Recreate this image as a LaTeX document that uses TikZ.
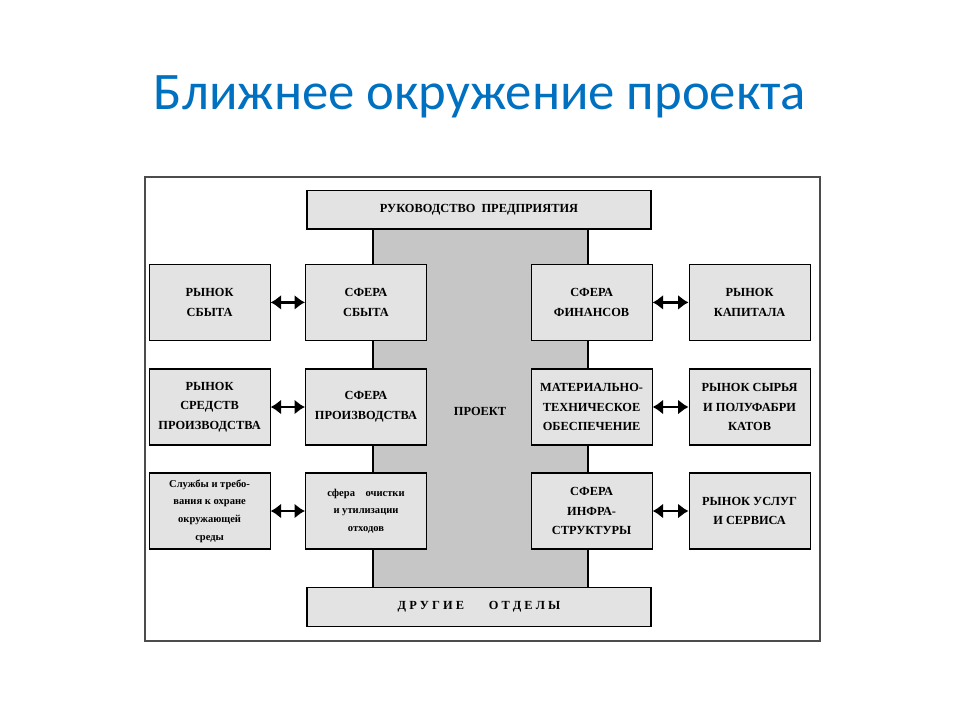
\documentclass[tikz,border=0pt]{standalone}
\usepackage{fontspec}
\setmainfont{Liberation Serif}
\newfontfamily\titlefont{Carlito}
\usetikzlibrary{arrows.meta}
\usetikzlibrary{backgrounds}
\definecolor{titleblue}{RGB}{0,112,192}

\tikzset{
  box/.style = {draw, thick, fill=gray!22, align=center, minimum width=3.025cm, minimum height=1.9cm,
    font=\bfseries\fontsize{8.8}{14}\selectfont, inner sep=1pt},
  smallbox/.style = {box, font=\bfseries\fontsize{7.5}{12.5}\selectfont},
  widebox/.style = {draw, thick, fill=gray!22, minimum width=8.6cm, minimum height=0.97cm,
    font=\bfseries\fontsize{8.8}{10}\selectfont},
  link/.style = {line width=1.6pt, {Latex[length=2.6mm,width=3.8mm]}-{Latex[length=2.6mm,width=3.8mm]}}
}

\begin{document}
\begin{tikzpicture}
  \useasboundingbox (0,0) rectangle (24,18);
  \node[font=\titlefont\fontsize{37.5}{40}\selectfont, text=titleblue] (title) at (12,15.58) {Ближнее окружение проекта};

  % frame
  \draw[line width=1.5pt, draw=black!70] (3.625,1.975) rectangle (20.5,13.575);

  % project column
  \draw[thick, fill=gray!45] (9.325,3.3) rectangle (14.7,12.28);
  \node[font=\bfseries\fontsize{8.8}{10}\selectfont] (proj) at (12,7.725) {ПРОЕКТ};

  \node[widebox] (top) at (11.975,12.76) {РУКОВОДСТВО\ \ ПРЕДПРИЯТИЯ};
  \node[widebox] (bottom) at (11.975,2.83) {Д\ Р\ У\ Г\ И\ Е\qquad О\ Т\ Д\ Е\ Л\ Ы};

  % row 1
  \node[box] (mkt1) at (5.24,10.44) {РЫНОК\\СБЫТА};
  \node[box] (sph1) at (9.15,10.44) {СФЕРА\\СБЫТА};
  \node[box] (sph2) at (14.79,10.44) {СФЕРА\\ФИНАНСОВ};
  \node[box] (mkt2) at (18.74,10.44) {РЫНОК\\КАПИТАЛА};

  % row 2
  \node[box] (mkt3) at (5.24,7.825) {РЫНОК\\СРЕДСТВ\\ПРОИЗВОДСТВА};
  \node[box] (sph3) at (9.15,7.825) {СФЕРА\\ПРОИЗВОДСТВА};
  \node[box] (sph4) at (14.79,7.825) {МАТЕРИАЛЬНО-\\ТЕХНИЧЕСКОЕ\\ОБЕСПЕЧЕНИЕ};
  \node[box] (mkt4) at (18.74,7.825) {РЫНОК СЫРЬЯ\\И ПОЛУФАБРИ\\КАТОВ};

  % row 3
  \node[smallbox] (mkt5) at (5.24,5.225) {Службы и требо-\\вания к охране\\окружающей\\среды};
  \node[smallbox] (sph5) at (9.15,5.225) {сфера\ \ \ \ очистки\\и утилизации\\отходов};
  \node[box] (sph6) at (14.79,5.225) {СФЕРА\\ИНФРА-\\СТРУКТУРЫ};
  \node[box] (mkt6) at (18.74,5.225) {РЫНОК УСЛУГ\\И СЕРВИСА};

  \draw[link] (mkt1) -- (sph1);
  \draw[link] (mkt3) -- (sph3);
  \draw[link] (mkt5) -- (sph5);
  \draw[link] (sph2) -- (mkt2);
  \draw[link] (sph4) -- (mkt4);
  \draw[link] (sph6) -- (mkt6);
\end{tikzpicture}
\end{document}
